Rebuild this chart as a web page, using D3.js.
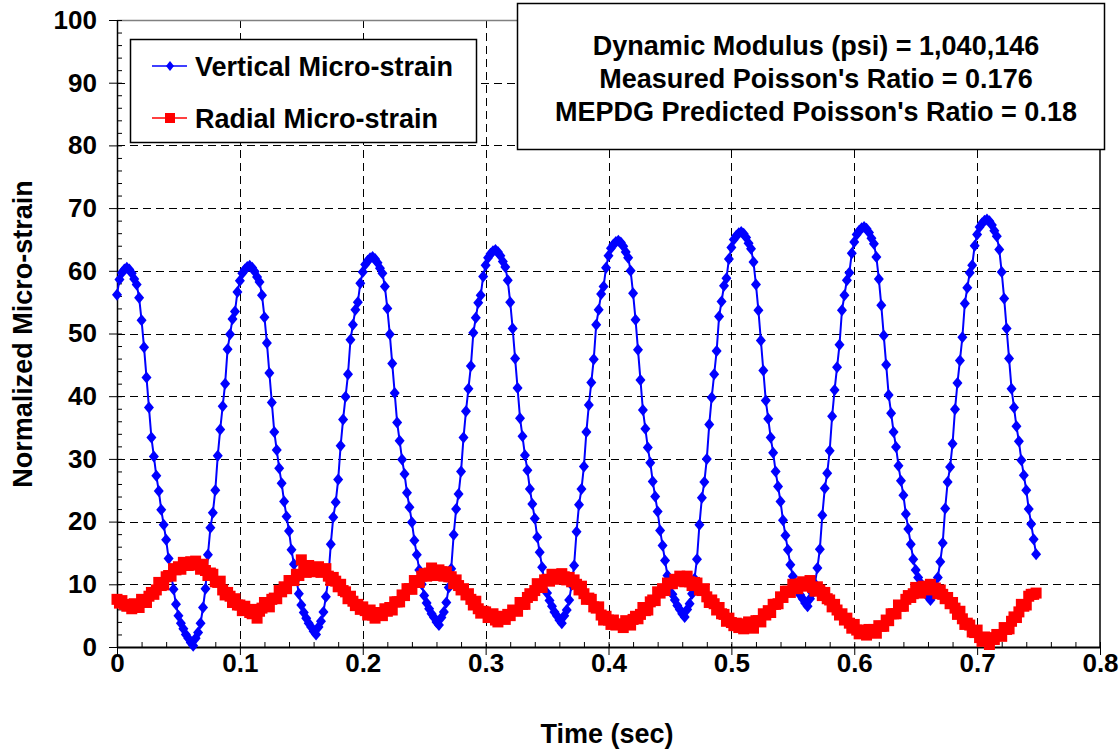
<!DOCTYPE html>
<html>
<head>
<meta charset="utf-8">
<script src="https://cdn.jsdelivr.net/npm/d3@7"></script>
<style>
  body { margin: 0; background: #ffffff; }
  svg { display: block; font-family: "Liberation Sans", Arial, sans-serif; font-weight: bold; }
</style>
</head>
<body>
<div id="chart"></div>
<script>
// data, one reading every 0.002 s (0 .. 0.748 s)

const sampleStep = 0.002;

const verticalStrain = [
  56.2, 58.6, 59.7, 60.2,
  60.5, 60.2, 59.6, 58.7, 57.8, 55.7, 52.1, 47.8, 43.0, 38.2, 33.4, 30.4, 27.3, 24.9, 21.9, 19.5, 17.1, 14.1, 11.7, 9.2, 6.8, 5.0, 3.8, 2.9, 2.0, 1.4, 0.7, 0.2,
  1.4, 2.3, 3.8, 6.3, 9.3, 14.7, 19.0, 21.4, 25.0, 30.5, 34.7, 38.4, 42.0, 47.5, 49.9, 52.3, 53.5, 56.6, 58.4, 59.6, 60.2, 60.6,
  60.8, 60.5, 59.9, 59.0, 58.2, 56.1, 52.6, 48.5, 43.7, 39.0, 34.3, 31.4, 28.5, 26.1, 23.2, 20.8, 18.5, 15.5, 13.2, 10.8, 8.5, 6.7, 5.5, 4.6, 3.8, 3.2, 2.5, 2.0,
  3.2, 4.1, 5.6, 8.0, 11.0, 16.4, 20.7, 23.1, 26.7, 32.1, 36.3, 39.9, 43.5, 49.0, 51.4, 53.8, 55.0, 58.0, 59.8, 61.0, 61.6, 62.0,
  62.2, 61.9, 61.3, 60.4, 59.6, 57.5, 54.0, 49.9, 45.2, 40.5, 35.8, 32.9, 29.9, 27.6, 24.6, 22.3, 19.9, 17.0, 14.7, 12.3, 10.0, 8.2, 7.0, 6.1, 5.3, 4.7, 4.0, 3.5,
  4.7, 5.6, 7.1, 9.5, 12.5, 17.9, 22.0, 24.4, 28.0, 33.4, 37.6, 41.2, 44.8, 50.1, 52.5, 54.9, 56.1, 59.1, 60.9, 62.1, 62.7, 63.1,
  63.3, 63.0, 62.4, 61.5, 60.6, 58.5, 55.0, 50.8, 46.0, 41.3, 36.5, 33.6, 30.6, 28.2, 25.2, 22.8, 20.5, 17.5, 15.1, 12.7, 10.3, 8.6, 7.4, 6.5, 5.6, 5.0, 4.3, 3.8,
  5.0, 5.9, 7.5, 9.9, 13.0, 18.4, 22.7, 25.2, 28.8, 34.3, 38.6, 42.2, 45.9, 51.4, 53.8, 56.3, 57.5, 60.5, 62.4, 63.6, 64.2, 64.6,
  64.8, 64.5, 63.9, 63.0, 62.1, 60.0, 56.4, 52.2, 47.4, 42.6, 37.8, 34.8, 31.8, 29.4, 26.4, 24.0, 21.6, 18.6, 16.2, 13.8, 11.4, 9.6, 8.4, 7.5, 6.6, 6.0, 5.3, 4.8,
  6.0, 6.9, 8.5, 10.9, 14.0, 19.5, 23.8, 26.3, 30.0, 35.5, 39.8, 43.5, 47.2, 52.7, 55.1, 57.6, 58.8, 61.9, 63.7, 65.0, 65.6, 66.0,
  66.2, 65.9, 65.3, 64.4, 63.5, 61.4, 57.8, 53.7, 48.9, 44.1, 39.3, 36.4, 33.4, 31.0, 28.0, 25.6, 23.2, 20.2, 17.8, 15.5, 13.1, 11.3, 10.1, 9.2, 8.3, 7.7, 7.0, 6.5,
  7.7, 8.6, 10.1, 12.6, 15.6, 21.0, 25.3, 27.7, 31.3, 36.8, 41.0, 44.6, 48.2, 53.7, 56.1, 58.5, 59.7, 62.8, 64.6, 65.8, 66.4, 66.8,
  67.0, 66.7, 66.1, 65.2, 64.3, 62.2, 58.7, 54.5, 49.7, 45.0, 40.2, 37.3, 34.3, 31.9, 28.9, 26.5, 24.2, 21.2, 18.8, 16.4, 14.0, 12.3, 11.1, 10.2, 9.3, 8.7, 8.0, 7.5,
  8.7, 9.6, 11.1, 13.6, 16.6, 22.1, 26.3, 28.7, 32.4, 37.9, 42.1, 45.7, 49.4, 54.8, 57.3, 59.7, 60.9, 64.0, 65.8, 67.0, 67.6, 68.0,
  68.2, 67.9, 67.3, 66.4, 65.5, 63.4, 59.8, 55.6, 50.8, 46.0, 41.2, 38.2, 35.2, 32.8, 29.8, 27.4, 25.0, 22.0, 19.6, 17.2, 14.8
];

const radialStrain = [
  7.6, 7.0, 7.4, 6.8, 6.5,
  6.6, 6.1, 6.9, 6.7, 6.3, 7.6, 7.2, 7.1, 8.1, 8.7, 8.4, 9.1, 10.3, 9.8, 9.9, 11.2, 11.4, 11.3, 12.5, 12.3, 12.8, 12.4, 13.5, 13.2, 13.0, 13.6,
  13.1, 13.7, 13.1, 12.4, 13.2, 12.2, 11.4, 11.8, 11.6, 10.4, 10.3, 10.5, 9.1, 8.3, 8.7, 8.1, 7.1, 7.7, 6.7, 6.7, 5.8, 6.5, 5.9, 5.5,
  5.3, 6.0, 4.6, 5.7, 6.2, 7.1, 6.5, 6.4, 7.6, 7.8, 7.7, 9.0, 8.8, 9.6, 9.3, 10.6, 10.6, 10.6, 11.6, 11.4, 13.9, 12.2, 11.9, 13.0, 12.4, 12.0,
  12.7, 12.8, 11.9, 12.1, 12.5, 11.3, 10.6, 11.1, 10.5, 9.6, 10.0, 9.0, 8.8, 7.7, 8.1, 7.3, 6.6, 6.8, 6.0, 6.4, 5.8, 5.1, 5.9, 5.1,
  4.6, 5.5, 5.4, 5.0, 6.1, 5.7, 6.3, 5.9, 7.2, 7.2, 7.2, 8.3, 8.2, 9.3, 9.3, 9.2, 10.6, 10.3, 10.3, 11.3, 11.7, 11.3, 11.8, 12.6, 11.8, 11.4,
  12.3, 12.0, 11.3, 12.0, 11.2, 11.2, 10.1, 10.7, 9.8, 9.1, 9.3, 8.3, 8.5, 7.6, 6.7, 7.3, 6.1, 5.4, 5.7, 5.6, 4.7, 4.8, 5.3, 4.3,
  4.0, 4.9, 4.6, 4.4, 5.2, 5.0, 5.9, 5.8, 5.7, 7.1, 6.8, 6.8, 7.9, 8.5, 8.2, 9.0, 10.1, 9.5, 9.5, 10.7, 10.8, 10.5, 11.6, 11.1, 11.5, 10.8,
  11.7, 11.2, 10.7, 11.1, 10.4, 10.7, 10.0, 9.1, 9.7, 8.5, 7.6, 7.8, 7.6, 6.4, 6.2, 6.4, 5.1, 4.3, 4.9, 4.3, 3.6, 4.3, 3.5, 3.7,
  3.6, 3.1, 4.2, 3.7, 3.5, 4.4, 4.9, 4.5, 5.2, 6.3, 5.8, 5.9, 7.2, 7.5, 7.4, 8.8, 8.6, 9.3, 9.0, 10.2, 10.1, 10.1, 10.8, 10.5, 11.3, 10.9,
  10.4, 11.3, 10.4, 9.8, 10.3, 10.2, 9.1, 9.0, 9.3, 8.0, 7.1, 7.5, 6.9, 5.9, 6.3, 5.3, 5.2, 4.1, 4.6, 3.9, 3.4, 3.8, 3.1, 3.7,
  2.9, 3.2, 4.0, 3.2, 3.0, 4.2, 4.2, 4.0, 5.3, 5.1, 5.8, 5.5, 6.8, 6.8, 6.9, 8.0, 7.9, 8.9, 8.9, 8.7, 10.0, 9.5, 9.3, 10.1, 10.4, 9.7,
  10.0, 10.6, 9.5, 8.9, 9.6, 9.1, 8.2, 8.7, 7.7, 7.5, 6.4, 6.8, 5.9, 5.1, 5.3, 4.3, 4.6, 3.8, 3.0, 3.6, 2.7, 2.1, 2.6, 2.7,
  1.9, 2.8, 2.3, 2.8, 2.2, 3.4, 3.3, 3.3, 4.3, 4.2, 5.3, 5.3, 5.3, 6.7, 6.5, 6.5, 7.6, 8.2, 7.9, 8.5, 9.5, 8.9, 8.6, 9.7, 9.6, 9.1,
  10.0, 9.3, 9.4, 8.5, 9.1, 8.4, 7.7, 7.9, 6.9, 7.1, 6.2, 5.2, 5.7, 4.5, 3.6, 3.8, 3.5, 2.4, 2.3, 2.7, 1.5, 0.9, 1.6, 1.3,
  0.4, 1.5, 1.2, 2.0, 1.9, 1.7, 3.1, 2.8, 2.9, 4.1, 4.8, 4.7, 5.6, 6.8, 6.5, 6.7, 8.1, 8.4, 8.4, 8.6
];

const xTicks = [0, 0.1, 0.2, 0.3, 0.4, 0.5, 0.6, 0.7, 0.8];
const yTicks = [0, 10, 20, 30, 40, 50, 60, 70, 80, 90, 100];
const seriesNames = ["Vertical Micro-strain", "Radial Micro-strain"];
const infoLines = [
  "Dynamic Modulus (psi) = 1,040,146",
  "Measured Poisson's Ratio = 0.176",
  "MEPDG Predicted Poisson's Ratio = 0.18"
];

const time = verticalStrain.map((d, i) => +(i * sampleStep).toFixed(3));

// config

const width = 1120;
const height = 752;
const plot = { left: 117, right: 1100, top: 20, bottom: 647 };
const blue = "#0000ff";
const red = "#ff0000";

const x = d3.scaleLinear().domain([0, 0.8]).range([plot.left, plot.right]);
const y = d3.scaleLinear().domain([0, 100]).range([plot.bottom, plot.top]);

const svg = d3.select("#chart")
  .append("svg")
  .attr("width", width)
  .attr("height", height);

svg.append("rect")
  .attr("width", width)
  .attr("height", height)
  .attr("fill", "#ffffff");

// grid

svg.append("g")
  .selectAll("line")
  .data(yTicks.filter(d => d > 0 && d < 100))
  .join("line")
  .attr("x1", plot.left)
  .attr("x2", plot.right)
  .attr("y1", d => Math.round(y(d)) + 0.5)
  .attr("y2", d => Math.round(y(d)) + 0.5)
  .attr("stroke", "#000")
  .attr("stroke-dasharray", "8,5");

svg.append("g")
  .selectAll("line")
  .data(xTicks.filter(d => d > 0 && d < 0.8))
  .join("line")
  .attr("x1", d => Math.round(x(d)) + 0.5)
  .attr("x2", d => Math.round(x(d)) + 0.5)
  .attr("y1", plot.top)
  .attr("y2", plot.bottom)
  .attr("stroke", "#000")
  .attr("stroke-dasharray", "8,5");

// frame top and right
svg.append("line")
  .attr("x1", plot.left).attr("x2", plot.right)
  .attr("y1", plot.top + 0.5).attr("y2", plot.top + 0.5)
  .attr("stroke", "#808080").attr("stroke-width", 1.5);

svg.append("line")
  .attr("x1", plot.right).attr("x2", plot.right)
  .attr("y1", plot.top).attr("y2", plot.bottom)
  .attr("stroke", "#000").attr("stroke-width", 1.5);

// axes, major ticks outside and minor ticks inside

const minorX = d3.range(0, 0.8001, 0.02).map(d => +d.toFixed(2));
const minorY = d3.range(0, 100.1, 2);

svg.append("g")
  .attr("transform", `translate(${plot.left}, 0)`)
  .call(d3.axisRight(y).tickValues(minorY).tickSize(5).tickFormat(""))
  .call(g => g.select(".domain").remove())
  .call(g => g.selectAll(".tick line").attr("stroke", "#000"));

svg.append("g")
  .attr("transform", `translate(0, ${plot.bottom})`)
  .call(d3.axisTop(x).tickValues(minorX).tickSize(5).tickFormat(""))
  .call(g => g.select(".domain").remove())
  .call(g => g.selectAll(".tick line").attr("stroke", "#000"));

svg.append("g")
  .attr("transform", `translate(${plot.left}, 0)`)
  .call(d3.axisLeft(y).tickValues(yTicks).tickSize(8).tickSizeOuter(0).tickPadding(12))
  .call(g => g.select(".domain").attr("stroke", "#000").attr("stroke-width", 1.5))
  .call(g => g.selectAll(".tick line").attr("stroke", "#000"))
  .call(g => g.selectAll(".tick text")
    .attr("fill", "#000")
    .style("font-size", "26px")
    .style("font-family", "'Liberation Sans', Arial, sans-serif")
    .style("font-weight", "bold"));

svg.append("g")
  .attr("transform", `translate(0, ${plot.bottom})`)
  .call(d3.axisBottom(x).tickValues(xTicks).tickSize(8).tickSizeOuter(0).tickPadding(-1)
    .tickFormat(d => d === 0 ? "0" : d3.format(".1f")(d)))
  .call(g => g.select(".domain").attr("stroke", "#000").attr("stroke-width", 2))
  .call(g => g.selectAll(".tick line").attr("stroke", "#000"))
  .call(g => g.selectAll(".tick text")
    .attr("fill", "#000")
    .style("font-size", "26px")
    .style("font-family", "'Liberation Sans', Arial, sans-serif")
    .style("font-weight", "bold"));

// axis titles

svg.append("text")
  .attr("x", 607)
  .attr("y", 743)
  .attr("text-anchor", "middle")
  .style("font-size", "27px")
  .text("Time (sec)");

svg.append("text")
  .attr("transform", "translate(32, 334) rotate(-90)")
  .attr("text-anchor", "middle")
  .style("font-size", "27px")
  .text("Normalized Micro-strain");

// series

const diamond = "M0,-6L5,0L0,6L-5,0Z";

const line = d3.line()
  .x((d, i) => x(time[i]))
  .y(d => y(d));

svg.append("path")
  .attr("d", line(verticalStrain))
  .attr("fill", "none")
  .attr("stroke", blue)
  .attr("stroke-width", 2);

svg.append("g")
  .selectAll("path")
  .data(verticalStrain)
  .join("path")
  .attr("transform", (d, i) => `translate(${x(time[i])}, ${y(d)})`)
  .attr("d", diamond)
  .attr("fill", blue);

svg.append("path")
  .attr("d", line(radialStrain))
  .attr("fill", "none")
  .attr("stroke", red)
  .attr("stroke-width", 2);

svg.append("g")
  .selectAll("rect")
  .data(radialStrain)
  .join("rect")
  .attr("x", (d, i) => x(time[i]) - 5.5)
  .attr("y", d => y(d) - 5.5)
  .attr("width", 11)
  .attr("height", 11)
  .attr("fill", red);

// legend

const legend = svg.append("g");

legend.append("rect")
  .attr("x", 130.5).attr("y", 39.5)
  .attr("width", 346).attr("height", 103)
  .attr("fill", "#fff")
  .attr("stroke", "#000")
  .attr("stroke-width", 1.5);

const legendRows = [
  { name: seriesNames[0], color: blue, cy: 66, symbol: "diamond" },
  { name: seriesNames[1], color: red, cy: 118, symbol: "square" }
];

legendRows.forEach(r => {
  legend.append("line")
    .attr("x1", 152).attr("x2", 187)
    .attr("y1", r.cy).attr("y2", r.cy)
    .attr("stroke", r.color).attr("stroke-width", 1.5);
  if (r.symbol === "diamond") {
    legend.append("path")
      .attr("transform", `translate(170, ${r.cy})`)
      .attr("d", "M0,-5L4,0L0,5L-4,0Z")
      .attr("fill", r.color);
  } else {
    legend.append("rect")
      .attr("x", 165).attr("y", r.cy - 5)
      .attr("width", 10).attr("height", 10)
      .attr("fill", r.color);
  }
  legend.append("text")
    .attr("x", 195)
    .attr("y", r.cy + 10)
    .style("font-size", "27px")
    .text(r.name);
});

// result box

svg.append("rect")
  .attr("x", 517.5).attr("y", 3.5)
  .attr("width", 587).attr("height", 146)
  .attr("fill", "#fff")
  .attr("stroke", "#000")
  .attr("stroke-width", 1.5);

svg.append("g")
  .selectAll("text")
  .data(infoLines)
  .join("text")
  .attr("x", 816)
  .attr("y", (d, i) => 55 + i * 33)
  .attr("text-anchor", "middle")
  .style("font-size", "27px")
  .text(d => d);
</script>
</body>
</html>
